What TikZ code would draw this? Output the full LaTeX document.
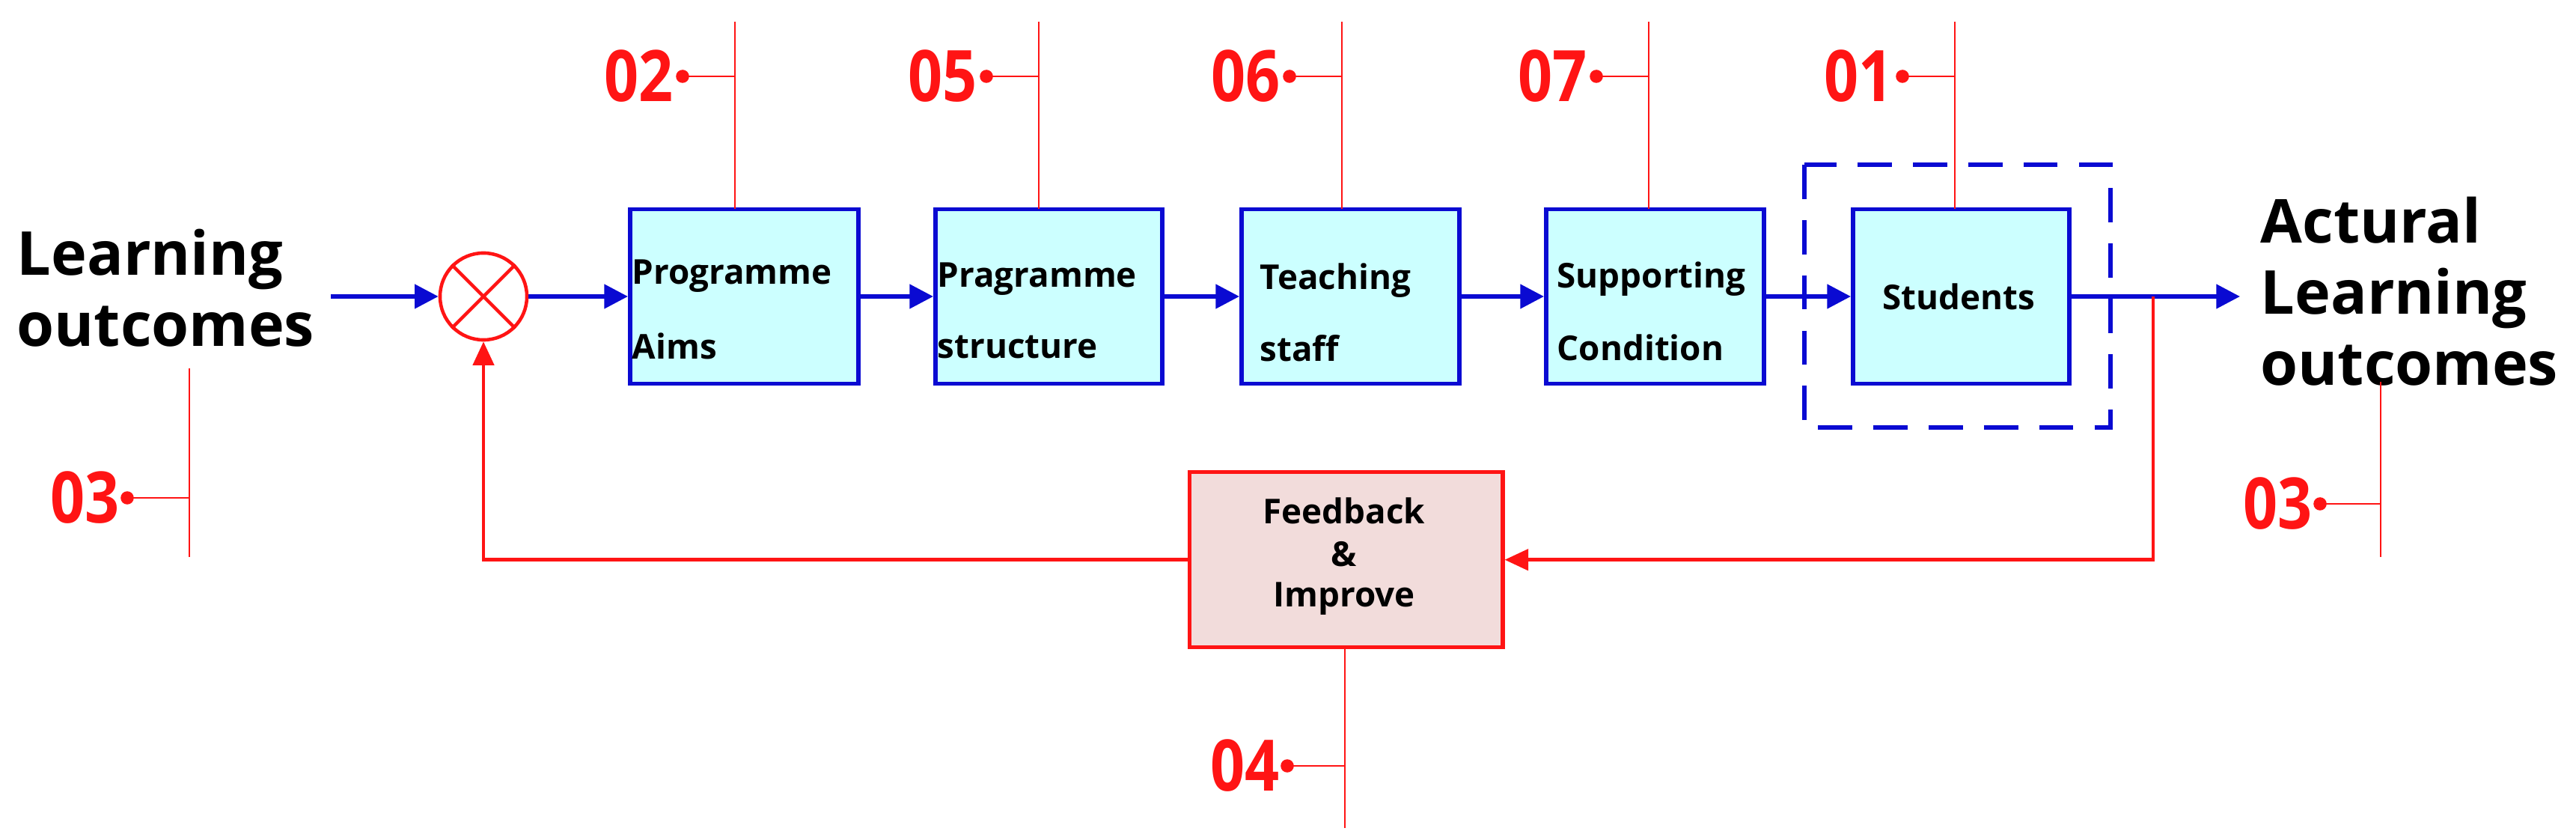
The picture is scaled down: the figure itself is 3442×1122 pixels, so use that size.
\documentclass[tikz,border=0pt]{standalone}
\usepackage{fontspec}
\setmainfont{Open Sans}
\usetikzlibrary{arrows.meta}
\definecolor{bl}{RGB}{10,10,210}
\definecolor{cy}{RGB}{204,255,255}
\definecolor{rd}{RGB}{255,20,20}
\definecolor{pk}{RGB}{242,220,219}
\tikzset{
 blk/.style={draw=bl,line width=4.5pt*0.35,fill=cy,minimum width=#1,minimum height=233*0.01cm,inner sep=0,anchor=west},
 blk/.default=2.8cm,
 bt/.style={font=\bfseries\fontsize{13}{15}\selectfont,anchor=west,inner sep=0},
 ba/.style={draw=bl,line width=1.6pt,-{Triangle[length=9pt,width=9pt]}},
 ra/.style={draw=rd,line width=1.3pt,-{Triangle[length=9pt,width=8pt]}},
 ll/.style={draw=rd,line width=0.8pt},
 num/.style={text=rd,font=\bfseries\fontsize{27}{30}\selectfont,inner sep=0,anchor=east,xscale=0.85},
 big/.style={font=\bfseries\fontsize{23}{27}\selectfont,align=left,inner sep=0,anchor=north west},
 dot/.style={fill=rd,circle,inner sep=0,minimum size=5pt}
}
\begin{document}
\begin{tikzpicture}[x=0.01cm,y=-0.01cm]
\path[use as bounding box] (0,0) rectangle (3442,1122);
% blocks
\node[blk=3.05cm] (b1) at (839,396) {};
\node[blk=3.03cm] (b2) at (1247,396) {};
\node[blk=2.91cm] (b3) at (1656,396) {};
\node[blk=2.91cm] (b4) at (2063,396) {};
\node[blk=2.89cm] (b5) at (2473,396) {};
\node[bt] at (844,369) {Programme};
\node[bt] at (844,462) {Aims};
\node[bt] at (1252,373) {Pragramme};
\node[bt] at (1252,464) {structure};
\node[bt] at (1683,375) {Teaching};
\node[bt] at (1683,465) {staff};
\node[bt] at (2080,373) {Supporting};
\node[bt] at (2080,464) {Condition};
\node[font=\bfseries\fontsize{13}{15}\selectfont,inner sep=0] at (2617,396) {Students};
\draw[draw=bl,line width=1.5pt,dash pattern=on 13pt off 8pt] (2411,220) rectangle (2820,571);
% feedback
\node[draw=rd,line width=1.5pt,fill=pk,minimum width=4.18cm,minimum height=2.34cm,inner sep=0,anchor=north west] (fb) at (1587,628) {};
\node[font=\bfseries\fontsize{13}{15}\selectfont,inner sep=0] at (1796,682) {Feedback};
\node[font=\bfseries\fontsize{13}{15}\selectfont,inner sep=0] at (1796,740) {\&};
\node[font=\bfseries\fontsize{13}{15}\selectfont,inner sep=0] at (1796,800) {Improve};
% summing junction
\node[draw=rd,line width=1.3pt,circle,minimum size=1.16cm,inner sep=0] (sj) at (646,396) {};
\draw[rd,line width=1.3pt] (sj.north west)--(sj.south east) (sj.north east)--(sj.south west);
% texts
\node[big] (lo) at (22,305) {Learning\\outcomes};
\node[big] (alo) at (3020,262) {Actural\\Learning\\outcomes};
% blue arrows
\coordinate (in) at (442,396);
\draw[ba] (in) -- (sj.west);
\draw[ba] (sj.east) -- (b1.west);
\draw[ba] (b1.east) -- (b2.west);
\draw[ba] (b2.east) -- (b3.west);
\draw[ba] (b3.east) -- (b4.west);
\draw[ba] (b4.east) -- (b5.west);
\coordinate (out) at (2993,396);
\draw[ba] (b5.east) -- (out);
% feedback loop
\coordinate (tap) at (2877,396);
\draw[ra] (tap) |- (fb.east);
\draw[ra] (fb.west) -| (sj.south);
% callouts top
\foreach \x/\t/\n in {982/02/b1,1388/05/b2,1793/06/b3,2203/07/b4,2612/01/b5}{
 \draw[ll] (\x,29) -- (\x,279);
 \draw[ll] (\x,102) -- (\x-70,102) node[dot]{};
 \node[num] at (\x-82,102) {\t};
}
% 03 left
\draw[ll] (253,492) -- (253,744);
\draw[ll] (253,665) -- (170,665) node[dot]{};
\node[num] at (160,665) {03};
% 03 right
\draw[ll] (3181,510) -- (3181,744);
\draw[ll] (3181,673) -- (3100,673) node[dot]{};
\node[num] at (3090,673) {03};
% 04
\draw[ll] (1797,862) -- (1797,1106);
\draw[ll] (1797,1023) -- (1720,1023) node[dot]{};
\node[num] at (1710,1023) {04};
\end{tikzpicture}
\end{document}
